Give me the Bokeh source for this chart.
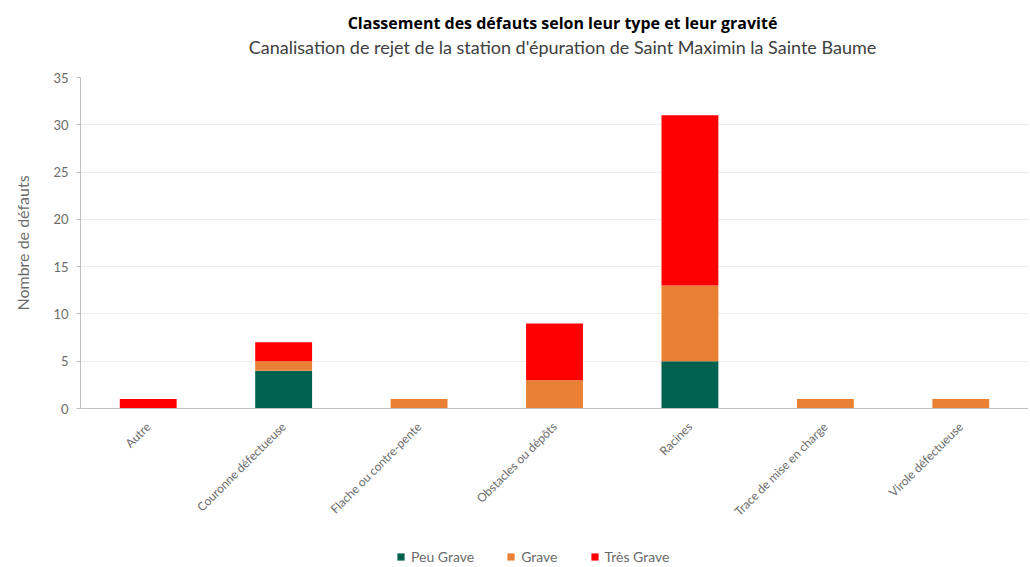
from bokeh.plotting import figure
from bokeh.layouts import column
from bokeh.models import ColumnDataSource, Legend, LegendItem, FactorRange, Range1d, FixedTicker, Label
from bokeh.embed import file_html
from bokeh.resources import INLINE
import math

categories = ["Autre", "Couronne défectueuse", "Flache ou contre-pente", "Obstacles ou dépôts",
              "Racines", "Trace de mise en charge", "Virole défectueuse"]
peu_grave = [0, 4, 0, 0, 5, 0, 0]
grave = [0, 1, 1, 3, 8, 1, 1]
tres_grave = [1, 2, 0, 6, 18, 0, 0]
series = ["Peu Grave", "Grave", "Très Grave"]
colors = ["#00614F", "#E98033", "#FF0000"]
y_ticks = [0, 5, 10, 15, 20, 25, 30, 35]
title_text = "Classement des défauts selon leur type et leur gravité"
subtitle_text = "Canalisation de rejet de la station d'épuration de Saint Maximin la Sainte Baume"

source = ColumnDataSource(data=dict(cat=categories, peu=peu_grave, grave=grave, tres=tres_grave))

FONT = "Lato"
GREY = "#6b6b6b"
W = 1028


def strip(h):
    f = figure(width=W, height=h, output_backend="svg", toolbar_location=None,
               x_range=Range1d(0, 1), y_range=Range1d(0, 1),
               min_border_left=0, min_border_right=0, min_border_top=0, min_border_bottom=0)
    f.axis.visible = False
    f.grid.visible = False
    f.outline_line_color = None
    return f


# title strip (its frame is aligned with the chart frame, which starts 80px in)
t = strip(60)
t.add_layout(Label(x=482, y=38, x_units="screen", y_units="screen", text=title_text,
                   text_font="Open Sans", text_font_style="bold", text_font_size="16px",
                   text_color="#000000", text_align="center", text_baseline="middle"))
t.add_layout(Label(x=482, y=14, x_units="screen", y_units="screen", text=subtitle_text,
                   text_font=FONT, text_font_style="normal", text_font_size="18px",
                   text_color="#404040", text_align="center", text_baseline="middle"))

# main chart
p = figure(x_range=FactorRange(*categories, range_padding=0), y_range=Range1d(0, 35),
           width=W, height=488, output_backend="svg", toolbar_location=None,
           min_border_left=80, min_border_right=0, min_border_top=17, min_border_bottom=140)

r = p.vbar_stack(["peu", "grave", "tres"], x="cat", width=0.42, source=source,
                 color=colors, line_color=None)

p.outline_line_color = None
p.xgrid.grid_line_color = None
p.ygrid.grid_line_color = "#ececec"
p.ygrid.ticker = FixedTicker(ticks=y_ticks)

p.yaxis.ticker = FixedTicker(ticks=y_ticks)
p.yaxis.axis_label = "Nombre de défauts"
p.yaxis.axis_label_text_font = FONT
p.yaxis.axis_label_text_font_style = "normal"
p.yaxis.axis_label_text_font_size = "16px"
p.yaxis.axis_label_text_color = GREY
p.yaxis.axis_label_standoff = 18
p.yaxis.major_label_text_font = FONT
p.yaxis.major_label_text_font_size = "13px"
p.yaxis.major_label_text_color = GREY
p.yaxis.major_label_standoff = 8
p.yaxis.axis_line_color = "#bfbfbf"
p.yaxis.major_tick_line_color = "#bfbfbf"
p.yaxis.major_tick_in = 0
p.yaxis.major_tick_out = 4
p.yaxis.minor_tick_line_color = None

p.xaxis.axis_line_color = "#bfbfbf"
p.xaxis.major_tick_line_color = None
p.xaxis.major_label_orientation = math.pi / 4
p.xaxis.major_label_text_font = FONT
p.xaxis.major_label_text_font_size = "12px"
p.xaxis.major_label_text_color = GREY
p.xaxis.major_label_standoff = 10

# legend strip below the chart
q = strip(18)
dummies = [q.vbar(x=[-5], top=[-5], width=0.1, color=c, line_color=None) for c in colors]
legend = Legend(items=[LegendItem(label=s, renderers=[rr]) for s, rr in zip(series, dummies)],
                orientation="horizontal", location=(316, 1),
                label_text_font=FONT, label_text_font_size="14px", label_text_color=GREY,
                glyph_width=9, glyph_height=9, spacing=32, border_line_color=None,
                background_fill_alpha=0, padding=0, margin=0, label_standoff=6,
                label_height=14)
q.add_layout(legend)

open("out.html", "w").write(file_html(column(t, p, q, spacing=0), INLINE))
